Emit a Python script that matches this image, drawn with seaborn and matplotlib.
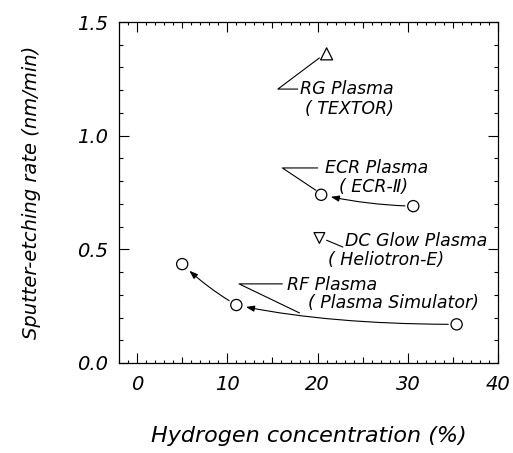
import matplotlib
matplotlib.use("Agg")
import matplotlib.pyplot as plt
import seaborn as sns
import numpy as np
from matplotlib.ticker import MultipleLocator, FuncFormatter

# ---- data ----
rg_x = [21.0]
rg_y = [1.36]
ecr_x = [20.4, 30.6]
ecr_y = [0.74, 0.69]
dc_x = [20.2]
dc_y = [0.55]
rf_x = [5.0, 11.0, 35.4]
rf_y = [0.435, 0.255, 0.17]

x_ticks = [0, 10, 20, 30, 40]
y_ticks = [0.0, 0.5, 1.0, 1.5]

sns.set_style("ticks")
plt.rcParams["font.family"] = ["DejaVu Sans"]
plt.rcParams["font.style"] = "italic"
for k in ["text.color", "axes.labelcolor", "xtick.color", "ytick.color", "axes.edgecolor"]:
    plt.rcParams[k] = "black"

fig = plt.figure(figsize=(5.13, 4.53), dpi=100)
ax = fig.add_axes([0.232, 0.1987, 0.739, 0.7527])

mk = dict(facecolor="none", edgecolor="black", linewidth=0.9, zorder=5, legend=False)
sns.scatterplot(x=rg_x, y=rg_y, marker="^", s=75, ax=ax, **mk)
sns.scatterplot(x=ecr_x, y=ecr_y, marker="o", s=65, ax=ax, **mk)
sns.scatterplot(x=dc_x, y=dc_y, marker="v", s=60, ax=ax, **mk)
sns.scatterplot(x=rf_x, y=rf_y, marker="o", s=65, ax=ax, **mk)

ax.set_xlim(-2, 40)
ax.set_ylim(0, 1.5)

# arrows between successive points
arrow_kw = dict(arrowstyle="-|>,head_length=0.5,head_width=0.18", color="black",
                lw=0.8, shrinkA=6, shrinkB=7)
ax.annotate("", xy=(ecr_x[0], ecr_y[0]), xytext=(ecr_x[1], ecr_y[1]),
            arrowprops=dict(connectionstyle="arc3,rad=-0.05", **arrow_kw))
ax.annotate("", xy=(rf_x[1], rf_y[1]), xytext=(rf_x[2], rf_y[2]),
            arrowprops=dict(connectionstyle="angle3,angleA=0,angleB=-12", **arrow_kw))
ax.annotate("", xy=(rf_x[0], rf_y[0]), xytext=(rf_x[1], rf_y[1]),
            arrowprops=dict(connectionstyle="arc3,rad=-0.06", **arrow_kw))

# leader lines (layout)
lk = dict(color="black", lw=0.8)
ax.plot([20.2, 15.6, 17.8], [1.342, 1.205, 1.205], **lk)
ax.plot([19.8, 16.1, 20.0], [0.76, 0.858, 0.858], **lk)
ax.plot([21.0, 22.8], [0.54, 0.51], **lk)
ax.plot([18.0, 11.3, 16.1], [0.22, 0.348, 0.348], **lk)

fs = 12.5
ax.text(18.0, 1.205, "RG Plasma", fontsize=fs, va="center", ha="left")
ax.text(18.6, 1.118, "( TEXTOR)", fontsize=fs, va="center", ha="left")
ax.text(20.8, 0.858, "ECR Plasma", fontsize=fs, va="center", ha="left")
ax.text(22.4, 0.775, "( ECR-Ⅱ)", fontsize=fs, va="center", ha="left")
ax.text(23.0, 0.535, "DC Glow Plasma", fontsize=fs, va="center", ha="left")
ax.text(21.1, 0.452, "( Heliotron-E)", fontsize=fs, va="center", ha="left")
ax.text(16.6, 0.345, "RF Plasma", fontsize=fs, va="center", ha="left")
ax.text(18.9, 0.262, "( Plasma Simulator)", fontsize=fs, va="center", ha="left")

# ticks
ax.xaxis.set_major_locator(MultipleLocator(5))
ax.xaxis.set_minor_locator(MultipleLocator(1))
ax.xaxis.set_major_formatter(FuncFormatter(lambda v, p: f"{int(round(v))}" if round(v) in x_ticks else ""))
ax.yaxis.set_major_locator(MultipleLocator(0.5))
ax.yaxis.set_minor_locator(MultipleLocator(0.1))
ax.yaxis.set_major_formatter(FuncFormatter(lambda v, p: f"{v:.1f}"))
ax.tick_params(which="both", direction="in", top=True, right=True, color="black", width=0.8)
ax.tick_params(which="major", length=7, labelsize=14, pad=8)
ax.tick_params(axis="x", which="major", pad=9)
ax.tick_params(which="minor", length=3)
ax.tick_params(axis="x", which="minor", length=2)
for lbl in ax.get_xticklabels() + ax.get_yticklabels():
    lbl.set_style("italic")

for sp in ax.spines.values():
    sp.set_color("black")
    sp.set_linewidth(0.9)

ax.set_xlabel("Hydrogen concentration (%)", fontsize=16, labelpad=23, style="italic")
ax.set_ylabel("Sputter-etching rate (nm/min)", fontsize=14, labelpad=26, style="italic")

fig.canvas.draw()
for t in ax.xaxis.get_major_ticks():
    v = t.get_loc()
    if round(v) % 10 != 0:
        t.tick1line.set_markersize(4)
        t.tick2line.set_markersize(4)

fig.savefig("out.png", dpi=100)
